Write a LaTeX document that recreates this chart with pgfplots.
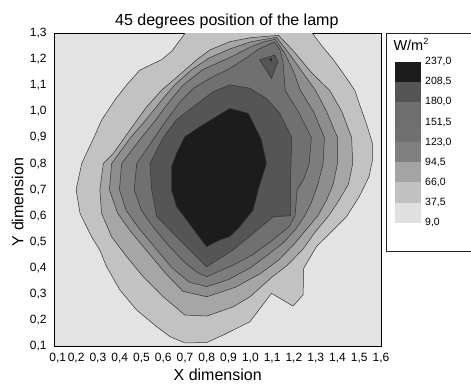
\documentclass[border=0pt]{standalone}
\usepackage{pgfplots}
\pgfplotsset{compat=1.18}
\usepackage{fontspec}
\setmainfont{Liberation Sans}
\definecolor{c0}{gray}{0.89}
\definecolor{c1}{gray}{0.76}
\definecolor{c2}{gray}{0.65}
\definecolor{c3}{gray}{0.555}
\definecolor{c4}{gray}{0.49}
\definecolor{c5}{gray}{0.44}
\definecolor{c6}{gray}{0.335}
\definecolor{c7}{gray}{0.11}
\definecolor{k1}{gray}{0.88}
\definecolor{k2}{gray}{0.755}
\definecolor{k3}{gray}{0.645}
\definecolor{k4}{gray}{0.50}
\definecolor{k5}{gray}{0.44}
\definecolor{k6}{gray}{0.435}
\definecolor{k7}{gray}{0.335}
\definecolor{k8}{gray}{0.11}
\definecolor{ln}{gray}{0.2}
\begin{document}
\begin{tikzpicture}
\useasboundingbox (0,0) rectangle (471pt,383pt);
\begin{axis}[
  scale only axis, width=326.7pt, height=312.7pt,
  at={(54.33pt,37pt)}, anchor=south west,
  xmin=0.1, xmax=1.6, ymin=0.1, ymax=1.3,
  xtick={0.2,0.3,0.4,0.5,0.6,0.7,0.8,0.9,1.0,1.1,1.2,1.3,1.4,1.5,1.6},
  extra x ticks={0.1},
  extra x tick style={xticklabel style={xshift=3.5pt}},
  ytick={0.1,0.2,0.3,0.4,0.5,0.6,0.7,0.8,0.9,1.0,1.1,1.2,1.3},
  major tick length=0pt,
  /pgf/number format/use comma,
  /pgf/number format/fixed,
  /pgf/number format/fixed zerofill,
  /pgf/number format/precision=1,
  /pgf/number format/assume math mode=true,
  tick label style={font=\fontsize{12}{13}\selectfont},
  xticklabel style={inner sep=0pt, yshift=-7pt},
  yticklabel style={inner sep=0pt, xshift=-7.5pt},
  axis background/.style={fill=c0},
  axis line style={line width=0.8pt, black},
  title={45 degrees position of the lamp},
  every axis title/.style={at={(axis description cs:0.528,1)}, anchor=base, yshift=7.3pt, inner sep=0pt, font=\fontsize{16}{18}\selectfont},
  xlabel={X dimension},
  every axis x label/.style={at={(axis description cs:0.5,0)}, anchor=base, yshift=-34pt, inner sep=0pt, font=\fontsize{16}{18}\selectfont},
  ylabel={Y dimension},
  every axis y label/.style={at={(axis description cs:-0.0949,0.4605)}, rotate=90, anchor=base, inner sep=0pt, font=\fontsize{16}{18}\selectfont},
]
% 37.5
\addplot[fill=c1, draw=ln, line width=0.5pt] coordinates {
(0.70,1.40) (0.70,1.30) (0.64,1.232) (0.593,1.199) (0.493,1.159) (0.432,1.102) (0.378,1.044) (0.317,0.967) (0.287,0.910) (0.226,0.801) (0.200,0.700) (0.218,0.609) (0.271,0.519) (0.309,0.468) (0.340,0.404) (0.401,0.315) (0.478,0.238) (0.570,0.174) (0.631,0.136) (0.699,0.112) (0.799,0.113) (0.875,0.142) (0.998,0.193) (1.097,0.302) (1.196,0.253) (1.242,0.296) (1.245,0.398) (1.303,0.481) (1.349,0.519) (1.441,0.596) (1.50,0.673) (1.545,0.75) (1.56,0.81) (1.56,0.88) (1.53,0.96) (1.50,1.03) (1.48,1.08) (1.44,1.13) (1.38,1.20) (1.33,1.25) (1.285,1.30) (1.285,1.40)
} -- cycle;
% 66
\addplot[fill=c2, draw=ln, line width=0.5pt] coordinates {
(0.309,0.699) (0.317,0.609) (0.363,0.519) (0.432,0.443) (0.508,0.366) (0.600,0.289) (0.699,0.219) (0.80,0.215) (0.92,0.25) (1.00,0.29) (1.10,0.365) (1.17,0.41) (1.24,0.47) (1.30,0.54) (1.36,0.60) (1.40,0.65) (1.45,0.72) (1.47,0.80) (1.465,0.90) (1.42,1.00) (1.365,1.08) (1.28,1.15) (1.20,1.23) (1.13,1.292) (1.00,1.283) (0.906,1.268) (0.814,1.236) (0.753,1.198) (0.692,1.153) (0.593,1.082) (0.524,1.018) (0.447,0.929) (0.371,0.839) (0.325,0.801)
} -- cycle;
% 94.5
\addplot[fill=c3, draw=ln, line width=0.5pt] coordinates {
(0.353,0.70) (0.39,0.61) (0.45,0.54) (0.53,0.46) (0.61,0.38) (0.69,0.31) (0.80,0.289) (0.93,0.325) (1.05,0.38) (1.13,0.43) (1.20,0.49) (1.26,0.55) (1.31,0.60) (1.35,0.66) (1.38,0.72) (1.40,0.80) (1.40,0.90) (1.35,1.00) (1.30,1.08) (1.24,1.15) (1.18,1.22) (1.12,1.285) (1.00,1.267) (0.906,1.24) (0.81,1.205) (0.73,1.16) (0.65,1.10) (0.59,1.04) (0.52,0.967) (0.45,0.90) (0.363,0.80)
} -- cycle;
% 123
\addplot[fill=c4, draw=ln, line width=0.5pt] coordinates {
(0.399,0.70) (0.43,0.62) (0.49,0.55) (0.56,0.48) (0.64,0.40) (0.72,0.345) (0.80,0.328) (0.90,0.355) (1.00,0.40) (1.08,0.45) (1.15,0.495) (1.21,0.55) (1.25,0.60) (1.28,0.65) (1.31,0.72) (1.334,0.80) (1.34,0.90) (1.29,1.00) (1.23,1.08) (1.20,1.15) (1.16,1.22) (1.115,1.277) (1.06,1.267) (1.00,1.247) (0.906,1.207) (0.86,1.19) (0.78,1.16) (0.69,1.10) (0.63,1.04) (0.565,0.967) (0.50,0.90) (0.409,0.80)
} -- cycle;
% 151.5
\addplot[fill=c5, draw=ln, line width=0.5pt] coordinates {
(0.467,0.70) (0.50,0.62) (0.56,0.55) (0.63,0.48) (0.70,0.42) (0.76,0.38) (0.80,0.366) (0.92,0.41) (1.01,0.45) (1.10,0.505) (1.18,0.56) (1.205,0.60) (1.215,0.70) (1.245,0.74) (1.27,0.80) (1.28,0.90) (1.22,1.00) (1.16,1.08) (1.15,1.19) (1.135,1.24) (1.11,1.267) (1.04,1.24) (0.98,1.205) (0.906,1.165) (0.82,1.13) (0.74,1.09) (0.68,1.04) (0.615,0.967) (0.56,0.90) (0.478,0.80)
} -- cycle;
% 180
\addplot[fill=c6, draw=ln, line width=0.5pt] coordinates {
(0.547,0.70) (0.570,0.596) (0.646,0.532) (0.707,0.481) (0.799,0.404) (0.92,0.468) (1.013,0.532) (1.105,0.596) (1.185,0.60) (1.185,0.75) (1.19,0.90) (1.135,0.993) (1.074,1.05) (0.998,1.089) (0.906,1.102) (0.829,1.076) (0.738,1.018) (0.66,0.967) (0.60,0.90) (0.539,0.80)
} -- cycle;
\addplot[fill=c6, draw=ln, line width=0.5pt] coordinates {
(1.043,1.198) (1.112,1.217) (1.127,1.191) (1.097,1.127)
} -- cycle;
% 208.5
\addplot[fill=c7, draw=ln, line width=0.5pt] coordinates {
(0.638,0.699) (0.661,0.635) (0.707,0.584) (0.753,0.532) (0.799,0.481) (0.860,0.507) (0.906,0.520) (0.952,0.558) (1.013,0.622) (1.036,0.699) (1.074,0.801) (1.051,0.891) (1.013,0.955) (0.990,0.993) (0.906,1.012) (0.768,0.942) (0.699,0.903) (0.661,0.839) (0.638,0.788)
} -- cycle;
\addplot[fill=c7, draw=ln, line width=0.5pt] coordinates {
(1.088,1.200) (1.098,1.204) (1.096,1.191)
} -- cycle;
\end{axis}
% colour scale
\begin{axis}[
  scale only axis, width=26pt, height=161pt,
  at={(395pt,160.3pt)}, anchor=south west,
  xmin=0, xmax=1, ymin=9, ymax=237,
  axis line style={draw=none},
  xtick=\empty,
  ytick={9,37.5,66,94.5,123,151.5,180,208.5,237},
  yticklabels={{9,0},{37,5},{66,0},{94,5},{123,0},{151,5},{180,0},{208,5},{237,0}},
  yticklabel pos=right,
  major tick length=0pt,
  yticklabel style={font=\fontsize{10.5}{11}\selectfont, inner sep=0pt, anchor=west, xshift=4pt},
]
\addplot[fill=k1, draw=none] coordinates {(0,9) (1,9) (1,37.5) (0,37.5)} -- cycle;
\addplot[fill=k2, draw=none] coordinates {(0,37.5) (1,37.5) (1,66) (0,66)} -- cycle;
\addplot[fill=k3, draw=none] coordinates {(0,66) (1,66) (1,94.5) (0,94.5)} -- cycle;
\addplot[fill=k4, draw=none] coordinates {(0,94.5) (1,94.5) (1,123) (0,123)} -- cycle;
\addplot[fill=k5, draw=none] coordinates {(0,123) (1,123) (1,151.5) (0,151.5)} -- cycle;
\addplot[fill=k6, draw=none] coordinates {(0,151.5) (1,151.5) (1,180) (0,180)} -- cycle;
\addplot[fill=k7, draw=none] coordinates {(0,180) (1,180) (1,208.5) (0,208.5)} -- cycle;
\addplot[fill=k8, draw=none] coordinates {(0,208.5) (1,208.5) (1,237) (0,237)} -- cycle;
\end{axis}
\draw[line width=0.6pt, black!85] (386.7pt,131.3pt) rectangle (520pt,349.7pt);
\node[anchor=base west, inner sep=0pt, font=\fontsize{14.5}{16}\selectfont] at (393.3pt,332.3pt) {W/m\raisebox{0.75ex}{\fontsize{9}{9}\selectfont 2}};
\end{tikzpicture}
\end{document}
